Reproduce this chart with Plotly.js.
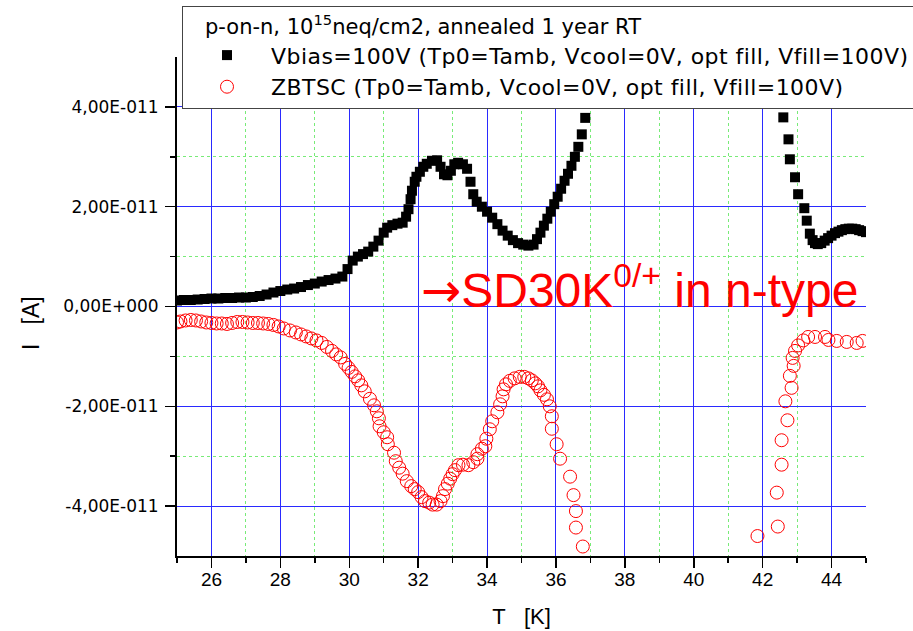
<!DOCTYPE html>
<html><head><meta charset="utf-8">
<script src="https://cdn.plot.ly/plotly-3.0.1.min.js"></script>
<style>html,body{margin:0;padding:0;background:#fff}#chart{width:913px;height:631px}</style>
</head><body><div id="chart"></div>
<script>
// Temperature [K]
const vbiasT = [25.0,25.2,25.4,25.6,25.8,26.0,26.2,26.4,26.6,26.8,27.0,27.2,27.4,27.6,27.8,28.0,28.2,28.4,28.6,28.8,29.0,29.2,29.4,29.6,29.8,29.95,30.1,30.25,30.4,30.55,30.7,30.85,31.0,31.1,31.25,31.4,31.55,31.65,31.72,31.78,31.82,31.9,31.95,32.05,32.15,32.25,32.4,32.55,32.65,32.75,32.85,32.95,33.05,33.16,33.3,33.42,33.52,33.6,33.7,33.85,34.0,34.15,34.3,34.45,34.6,34.75,34.9,35.05,35.2,35.35,35.45,35.55,35.65,35.75,35.85,35.95,36.05,36.15,36.25,36.35,36.45,36.55,36.65,36.75,36.85,
  42.6,42.75,42.79,42.94,43.03,43.21,43.28,43.37,43.45,43.52,43.6,43.7,43.8,43.9,44.0,44.1,44.2,44.3,44.4,44.5,44.6,44.7,44.8,44.9,45.0];
// Current, in units of 1E-11 A
const vbiasI = [0.12,0.13,0.13,0.14,0.15,0.16,0.16,0.17,0.17,0.18,0.18,0.19,0.21,0.24,0.28,0.31,0.34,0.36,0.39,0.43,0.46,0.5,0.53,0.56,0.6,0.75,0.92,1.0,1.05,1.1,1.2,1.32,1.48,1.58,1.63,1.66,1.68,1.8,1.95,2.15,2.32,2.5,2.6,2.7,2.8,2.86,2.92,2.93,2.8,2.65,2.63,2.72,2.85,2.88,2.85,2.76,2.5,2.25,2.1,2.0,1.9,1.78,1.65,1.52,1.42,1.33,1.27,1.24,1.22,1.24,1.35,1.48,1.62,1.76,1.9,2.05,2.2,2.36,2.52,2.66,2.82,3.0,3.2,3.45,3.78,
  3.79,3.35,2.95,2.59,2.25,1.97,1.72,1.46,1.33,1.27,1.25,1.27,1.32,1.37,1.42,1.47,1.5,1.53,1.55,1.56,1.56,1.55,1.53,1.51,1.49];
const zbtscT = [25.0,25.1,25.25,25.4,25.55,25.7,25.85,26.0,26.15,26.3,26.45,26.6,26.75,26.9,27.05,27.2,27.35,27.5,27.65,27.8,27.95,28.1,28.28,28.45,28.6,28.75,28.9,29.05,29.2,29.35,29.5,29.62,29.75,29.88,29.98,30.07,30.17,30.26,30.35,30.45,30.6,30.72,30.8,30.86,30.88,31.0,31.1,31.12,31.3,31.35,31.45,31.55,31.67,31.8,31.9,32.0,32.1,32.2,32.32,32.42,32.54,32.65,32.72,32.78,32.86,32.93,33.0,33.07,33.17,33.3,33.46,33.6,33.72,33.72,33.85,33.95,33.98,34.08,34.15,34.3,34.38,34.45,34.48,34.55,34.66,34.8,34.95,35.08,35.2,35.3,35.4,35.48,35.55,35.65,35.74,35.82,35.88,35.88,36.02,36.12,36.41,36.51,36.58,36.58,36.78,
  41.85,42.44,42.41,42.55,42.55,42.72,42.66,42.84,42.79,42.9,42.87,42.94,43.03,43.18,43.32,43.52,43.81,43.91,44.15,44.44,44.73,44.9];
const zbtscI = [-0.32,-0.3,-0.28,-0.27,-0.28,-0.3,-0.32,-0.33,-0.34,-0.34,-0.35,-0.33,-0.31,-0.31,-0.32,-0.33,-0.33,-0.34,-0.35,-0.37,-0.4,-0.44,-0.48,-0.52,-0.56,-0.6,-0.64,-0.68,-0.73,-0.81,-0.89,-0.96,-1.02,-1.15,-1.23,-1.31,-1.4,-1.48,-1.58,-1.7,-1.85,-1.98,-2.1,-2.24,-2.4,-2.52,-2.62,-2.76,-2.93,-3.1,-3.23,-3.35,-3.5,-3.6,-3.66,-3.72,-3.82,-3.9,-3.93,-3.97,-3.97,-3.9,-3.8,-3.66,-3.55,-3.45,-3.36,-3.28,-3.18,-3.17,-3.18,-3.12,-3.05,-2.96,-2.85,-2.8,-2.65,-2.46,-2.3,-2.12,-1.96,-1.8,-1.66,-1.56,-1.49,-1.44,-1.41,-1.41,-1.44,-1.48,-1.54,-1.6,-1.68,-1.77,-1.86,-2.0,-2.2,-2.45,-2.76,-3.05,-3.41,-3.78,-4.1,-4.43,-4.81,
  -4.6,-4.41,-3.73,-3.17,-2.68,-2.28,-1.9,-1.63,-1.39,-1.19,-1.03,-0.89,-0.78,-0.68,-0.61,-0.61,-0.61,-0.67,-0.69,-0.71,-0.73,-0.69];
const yTickVals = [-4,-2,0,2,4];
const yTickText = ['-4,00E-011','-2,00E-011','0,00E+000','2,00E-011','4,00E-011'];
const yMinorVals = [-3,-1,1,3];
const seriesNames = ['Vbias=100V (Tp0=Tamb, Vcool=0V, opt fill, Vfill=100V)','ZBTSC (Tp0=Tamb, Vcool=0V, opt fill, Vfill=100V)'];
const legendTitle = 'p-on-n, 10<sup>15</sup>neq/cm2, annealed 1 year RT';
const noteText = '<span style="font-family:DejaVu Sans">→</span>SD30K<sup>0/+</sup> in n-type';
const xTitle = 'T\u00A0\u00A0\u00A0[K]';
const yTitle = 'I\u00A0\u00A0\u00A0[A]';

const E = 1e-11;
const toA = a => a.map(v => v * E);
const spaced = s => '<span style="letter-spacing:0.45px">' + s + '</span>';

const traces = [
  {x: vbiasT, y: toA(vbiasI), name: spaced(seriesNames[0]), type: 'scatter', mode: 'markers',
   marker: {symbol: 'square', size: 10, color: '#000'}},
  {x: zbtscT, y: toA(zbtscI), name: spaced(seriesNames[1]), type: 'scatter', mode: 'markers',
   marker: {symbol: 'circle-open', size: 13, color: '#ff0000', line: {width: 1, color: '#ff0000'}}}
];

const gridBlue = '#2a2aff';
const gridGreen = 'rgb(120,235,120)';
const titleFont = {family: 'Liberation Sans, Arial, sans-serif', size: 23, color: '#000'};

const layout = {
  width: 913, height: 631,
  margin: {l: 177, r: 47, t: 57, b: 75, pad: 0, autoexpand: false},
  paper_bgcolor: '#fff', plot_bgcolor: '#fff',
  showlegend: true,
  xaxis: {
    range: [25, 45], tick0: 0, dtick: 2, automargin: false,
    showline: true, linecolor: '#000', linewidth: 2, mirror: false,
    ticks: 'outside', ticklen: 10, tickwidth: 1.5, tickcolor: '#000',
    showgrid: true, gridcolor: gridBlue, gridwidth: 1, zeroline: false,
    tickfont: {family: 'Liberation Sans, Arial, sans-serif', size: 19, color: '#000'},
    ticklabelstandoff: -5, tickangle: 0,
    minor: {dtick: 1, ticks: 'outside', ticklen: 5, tickwidth: 1.5, tickcolor: '#000',
            showgrid: true, gridcolor: gridGreen, griddash: 'dot', gridwidth: 1},
    title: {text: xTitle, font: {family: 'Liberation Sans, Arial, sans-serif', size: 22, color: '#000'}, standoff: 20}
  },
  yaxis: {
    range: [-5 * E, 5 * E], tickmode: 'array', tickvals: toA(yTickVals), ticktext: yTickText, automargin: false,
    showline: true, linecolor: '#000', linewidth: 2, mirror: false,
    ticks: 'outside', ticklen: 10, tickwidth: 1.5, tickcolor: '#000',
    showgrid: true, gridcolor: gridBlue, gridwidth: 1, zeroline: false,
    tickfont: {family: 'DejaVu Sans, sans-serif', size: 17, color: '#000'},
    ticklabelstandoff: 3,
    minor: {tickmode: 'array', tickvals: toA(yMinorVals), ticks: 'outside', ticklen: 5, tickwidth: 1.5, tickcolor: '#000',
            showgrid: true, gridcolor: gridGreen, griddash: 'dot', gridwidth: 1}
  },
  legend: {
    x: (182 - 177) / 689, xanchor: 'left', xref: 'paper',
    y: (556 - 6) / 499, yanchor: 'top', yref: 'paper',
    bgcolor: '#fff', bordercolor: '#444', borderwidth: 1,
    font: {family: 'DejaVu Sans, sans-serif', size: 22, color: '#000'},
    itemwidth: 78,
    title: {text: '\u00A0\u00A0\u00A0' + legendTitle, font: {family: 'DejaVu Sans, sans-serif', size: 21, color: '#000'}}
  },
  annotations: [
    {text: noteText, xref: 'x', yref: 'y', x: 32.02, y: -0.28 * E,
     xanchor: 'left', yanchor: 'bottom', showarrow: false,
     font: {family: 'Liberation Sans, Arial, sans-serif', size: 48, color: '#ff0000'}},
    {text: yTitle, xref: 'paper', yref: 'paper', x: (31 - 177) / 689, y: (556 - 323) / 499,
     xanchor: 'center', yanchor: 'middle', textangle: -90, showarrow: false, font: titleFont}
  ]
};

Plotly.newPlot('chart', traces, layout, {displayModeBar: false, staticPlot: true});
</script>
</body></html>
